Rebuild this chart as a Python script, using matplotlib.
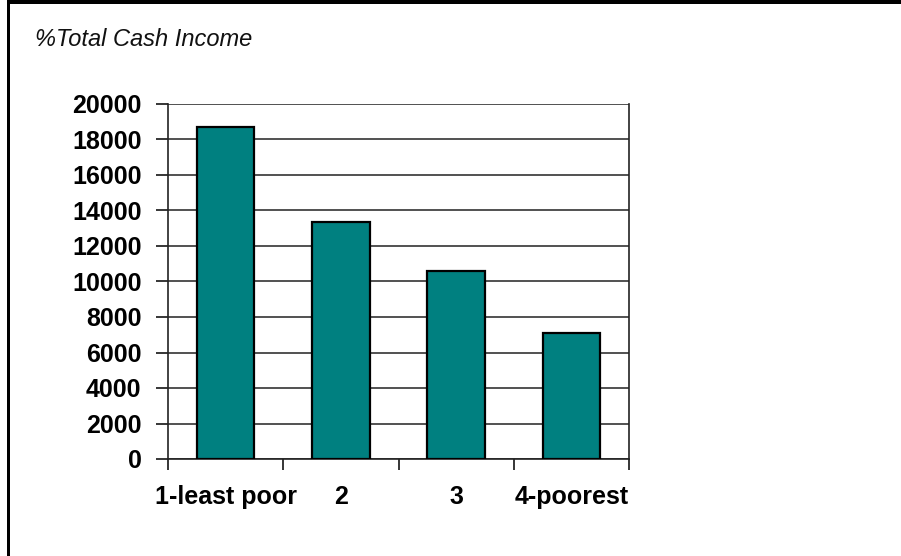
import matplotlib.pyplot as plt
from matplotlib.patches import Rectangle
import numpy as np

categories = ["1-least poor", "2", "3", "4-poorest"]
income = [18700, 13350, 10600, 7100]
yticks = list(range(0, 20001, 2000))

W, H = 901, 556
fig = plt.figure(figsize=(W / 100, H / 100), dpi=100)
fig.patch.set_facecolor("white")

# frame around the slide: black bar on top, black line at left
fig.add_artist(Rectangle((7 / W, 1 - 3.5 / H), 1, 3.5 / H, transform=fig.transFigure,
                         facecolor="black", edgecolor="none"))
fig.add_artist(Rectangle((7 / W, 0), 2.5 / W, 1, transform=fig.transFigure,
                         facecolor="black", edgecolor="none"))

fig.text(35 / W, 1 - 40 / H, "%Total Cash Income", fontsize=17, style="italic",
         family="Liberation Sans", va="center", ha="left", color="#111111")

# plot area in pixels: x 168..629, y 104..459
ax = fig.add_axes([168 / W, 1 - 459 / H, (629 - 168) / W, (459 - 104) / H])
x = np.arange(len(categories))
ax.bar(x, income, width=0.5, color="#008080", edgecolor="black", linewidth=1.6, zorder=3)

ax.set_xlim(-0.5, len(categories) - 0.5)
ax.set_ylim(0, 20000)
ax.set_yticks(yticks)
ax.set_yticklabels([str(v) for v in yticks], fontsize=18, fontweight="bold",
                   family="Liberation Sans")
ax.yaxis.grid(True, color="#222222", linewidth=1.1, zorder=0)

# category boundary ticks below the axis, labels centred on bars
ax.set_xticks(np.arange(len(categories) + 1) - 0.5)
ax.set_xticklabels([])
ax.set_xticks(x, minor=True)
ax.set_xticklabels(categories, minor=True, fontsize=18, fontweight="bold",
                   family="Liberation Sans")
ax.tick_params(axis="x", which="minor", length=0, pad=19)
ax.tick_params(axis="x", which="major", length=8, width=1.1, direction="out")
ax.tick_params(axis="y", length=9, width=1.1, direction="out", pad=10)

for side in ["left", "right", "bottom"]:
    ax.spines[side].set_color("#222222")
    ax.spines[side].set_linewidth(1.2)
ax.spines["top"].set_visible(False)
ax.set_facecolor("white")

fig.savefig("out.png", dpi=100)
